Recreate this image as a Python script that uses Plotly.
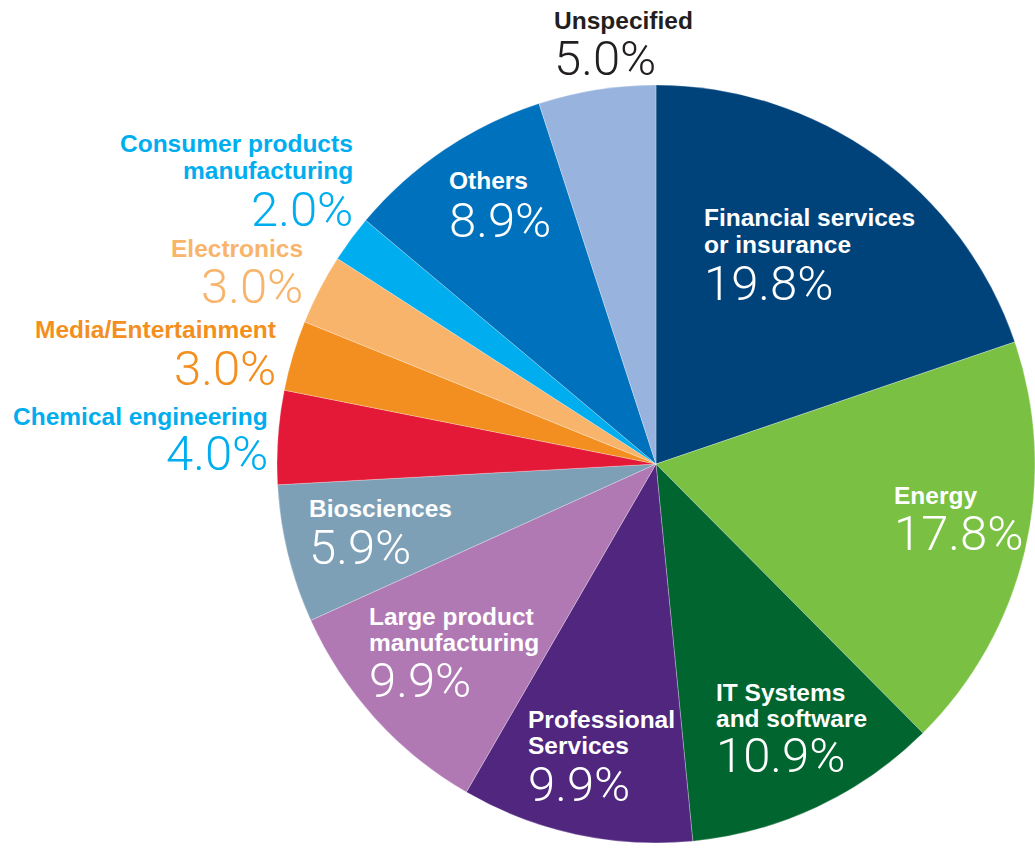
import plotly.graph_objects as go

# Sector breakdown (percent of respondents), clockwise from 12 o'clock
categories = [
    "Financial services\nor insurance",
    "Energy",
    "IT Systems\nand software",
    "Professional\nServices",
    "Large product\nmanufacturing",
    "Biosciences",
    "Chemical engineering",
    "Media/Entertainment",
    "Electronics",
    "Consumer products\nmanufacturing",
    "Others",
    "Unspecified",
]
shares = [19.8, 17.8, 10.9, 9.9, 9.9, 5.9, 4.0, 3.0, 3.0, 2.0, 8.9, 5.0]

slice_colors = [
    "#00427a", "#7ac143", "#00652e", "#50267f", "#b079b4", "#7da0b7",
    "#e31937", "#f38f20", "#f9b46c", "#00aeef", "#0071bc", "#98b4de",
]
label_colors = [
    "#ffffff", "#ffffff", "#ffffff", "#ffffff", "#ffffff", "#ffffff",
    "#00aeef", "#f38f20", "#f9b46c", "#00aeef", "#ffffff", "#231f20",
]

# Label placement in page pixels: x, first name line centre, value centre, side
label_layout = [
    (703, 218, 283, "left"),
    (893, 495, 533, "left"),
    (715, 692, 755, "left"),
    (527, 719, 784, "left"),
    (368, 616, 680, "left"),
    (308, 508, 547, "left"),
    (269, 416, 454, "right"),
    (277, 330, 368, "right"),
    (304, 248, 286, "right"),
    (354, 144, 210, "right"),
    (448, 180, 220, "left"),
    (553, 20, 58, "left"),
]

W, H = 1035, 848
CX, CY, R = 656, 464, 379
NAME_FONT = dict(family="Liberation Sans, Arial, sans-serif", size=24.5, weight=700)
VALUE_FONT = dict(family="Roboto, sans-serif", size=49, weight=300)
LINE_PITCH = 26.5


def px_x(x):
    return x / W


def px_y(y):
    return 1 - y / H


fig = go.Figure(
    go.Pie(
        labels=[c.replace("\n", " ") for c in categories],
        values=shares,
        sort=False,
        direction="clockwise",
        rotation=0,
        marker=dict(colors=slice_colors, line=dict(color="rgba(255,255,255,0.45)", width=0.6)),
        textinfo="none",
        hoverinfo="label+percent",
        domain=dict(
            x=[px_x(CX - R), px_x(CX + R)],
            y=[px_y(CY + R), px_y(CY - R)],
        ),
        showlegend=False,
    )
)

annotations = []
for name, val, col, (x, y_name, y_val, side) in zip(categories, shares, label_colors, label_layout):
    for i, line in enumerate(name.split("\n")):
        annotations.append(dict(
            x=px_x(x), y=px_y(y_name + i * LINE_PITCH), xref="paper", yref="paper",
            text=line, showarrow=False, xanchor=side, yanchor="middle", align=side,
            font=dict(color=col, **NAME_FONT), borderpad=0,
        ))
    annotations.append(dict(
        x=px_x(x), y=px_y(y_val), xref="paper", yref="paper",
        text=f"{val:.1f}%", showarrow=False, xanchor=side, yanchor="middle", align=side,
        font=dict(color=col, **VALUE_FONT), borderpad=0,
    ))

fig.update_layout(
    width=W, height=H,
    margin=dict(l=0, r=0, t=0, b=0),
    paper_bgcolor="white", plot_bgcolor="white",
    annotations=annotations,
)

fig.write_html("out.html")
